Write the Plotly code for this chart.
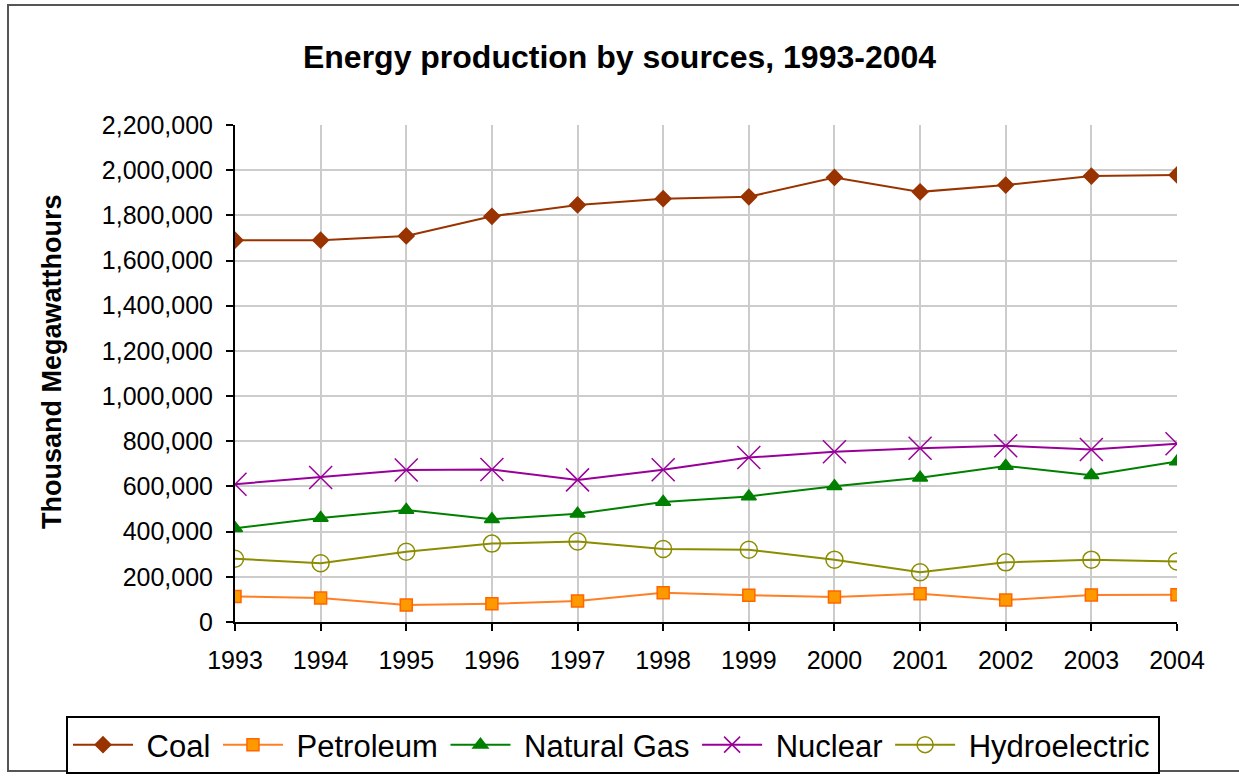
import plotly.graph_objects as go

years = [1993, 1994, 1995, 1996, 1997, 1998, 1999, 2000, 2001, 2002, 2003, 2004]
coal = [1690000, 1690000, 1709000, 1796000, 1846000, 1874000, 1882000, 1968000, 1904000, 1934000, 1974000, 1979000]
petroleum = [113000, 106000, 75000, 81000, 93000, 129000, 118000, 111000, 125000, 97000, 120000, 121000]
natural_gas = [415000, 460000, 496000, 455000, 479000, 531000, 556000, 601000, 639000, 691000, 650000, 710000]
nuclear = [610000, 640000, 673000, 675000, 629000, 674000, 728000, 754000, 769000, 780000, 764000, 789000]
hydro = [280000, 260000, 311000, 347000, 356000, 323000, 320000, 276000, 220000, 264000, 276000, 268000]

series = [
    ("Coal", coal, "#993300", "#993300", "diamond", 12, "#993300"),
    ("Petroleum", petroleum, "#ff7f27", "#ff9900", "square", 12, "#ff6600"),
    ("Natural Gas", natural_gas, "#008000", "#008000", "triangle-up", 13, "#008000"),
    ("Nuclear", nuclear, "#990099", "#990099", "x-thin-open", 23, "#990099"),
    ("Hydroelectric", hydro, "#8c8c00", "#8c8c00", "circle-open", 17, "#8c8c00"),
]

FONT = "Liberation Sans, Arial, sans-serif"

fig = go.Figure()
for name, vals, lcol, mfill, sym, msize, mline in series:
    fig.add_trace(go.Scatter(
        x=years, y=vals, name="\u00a0" + name + "\u200a", mode="lines+markers",
        line=dict(color=lcol, width=2),
        marker=dict(symbol=sym, size=msize, color=mfill,
                    line=dict(color=mline, width=1.5)),
    ))

W, H = 1239, 776
L, R, T, B = 235, 1177, 125, 622
pw, ph = R - L, B - T

def px(x):
    return (x - L) / pw

def py(y):
    return (B - y) / ph

fig.update_layout(
    width=W, height=H,
    margin=dict(l=L, r=W - R, t=T, b=H - B, pad=0, autoexpand=False),
    paper_bgcolor="white", plot_bgcolor="white",
    font=dict(family=FONT, color="black"),
    title=dict(text="<b>Energy production by sources, 1993-2004</b>",
               x=0.5, xanchor="center", y=1 - 57 / H, yanchor="middle",
               font=dict(size=32, family=FONT, color="black")),
    showlegend=True,
    legend=dict(orientation="h", x=px(66), xanchor="left", y=py(716), yanchor="top",
                bordercolor="black", borderwidth=2, bgcolor="white",
                font=dict(size=31, family=FONT, color="black"),
                itemwidth=60, traceorder="normal"),
    xaxis=dict(range=[1993, 2004], tickmode="array", tickvals=years,
               ticktext=[str(y) for y in years],
               showgrid=True, gridcolor="#cccccc", gridwidth=2,
               showline=True, linecolor="black", linewidth=2,
               ticks="outside", ticklen=7, tickcolor="black", tickwidth=2,
               tickfont=dict(size=25, family=FONT, color="black"),
               ticklabelstandoff=8,
               zeroline=False, fixedrange=True),
    yaxis=dict(range=[0, 2200000], dtick=200000, tickformat=",",
               showgrid=True, gridcolor="#cccccc", gridwidth=2,
               showline=True, linecolor="black", linewidth=2,
               ticks="outside", ticklen=7, tickcolor="black", tickwidth=2,
               tickfont=dict(size=25, family=FONT, color="black"),
               ticklabelstandoff=8,
               zeroline=False, fixedrange=True),
    annotations=[dict(text="<b>Thousand Megawatthours</b>", textangle=-90,
                      xref="paper", yref="paper", x=px(52), y=py(362),
                      xanchor="center", yanchor="middle", showarrow=False,
                      font=dict(size=27, family=FONT, color="black"))],
    shapes=[dict(type="rect", xref="paper", yref="paper",
                 x0=px(8), x1=px(1245), y0=py(771), y1=py(5),
                 line=dict(color="#555555", width=2), fillcolor="rgba(0,0,0,0)",
                 layer="below")],
)

fig.write_html("out.html", config={"displayModeBar": False},
               post_script="document.body.style.margin='0';document.body.style.overflow='hidden';")
